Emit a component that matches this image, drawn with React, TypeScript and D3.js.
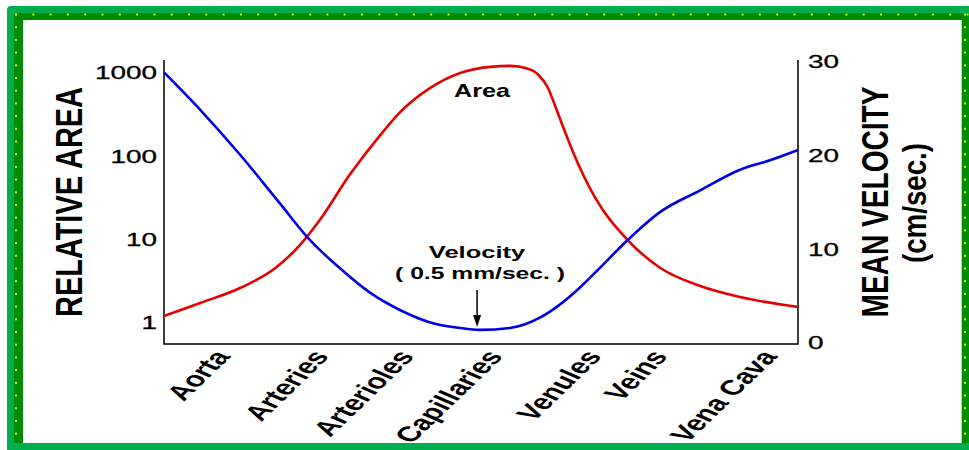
import React from 'react';
import * as d3 from 'd3';

// vessel categories along the x axis and where each label sits along the bed
const categories = ['Aorta', 'Arteries', 'Arterioles', 'Capillaries', 'Venules', 'Veins', 'Vena Cava'];
const categoryPos = [0.55, 1.64, 2.58, 3.56, 4.65, 5.38, 6.59];
const areaTicks = [1, 10, 100, 1000];
const velocityTicks = [0, 10, 20, 30];

// position along the vascular bed (0 = start of aorta, 7 = end of vena cava)
const areaPos = [0, 0.4, 0.84, 1.23, 1.5, 1.72, 2.05, 2.39, 2.61, 2.94, 3.27, 3.6, 3.82, 3.99, 4.13, 4.24, 4.32, 4.41, 4.52, 4.76, 5.12, 5.48, 5.92, 6.36, 7];
const areaValues = [1.21, 1.74, 2.63, 4.57, 8.6, 17.2, 60, 181, 341, 662, 1000, 1183, 1217, 1150, 960, 660, 400, 220, 110, 32, 9.9, 4.57, 2.78, 2.05, 1.56];

const velocityPos = [0, 0.4, 0.84, 1.28, 1.61, 1.94, 2.27, 2.61, 2.94, 3.27, 3.49, 3.82, 4.15, 4.37, 4.59, 4.81, 5.12, 5.48, 5.92, 6.36, 6.69, 7];
const velocityValues = [28.9, 24.9, 20.1, 14.9, 11.0, 8.0, 5.4, 3.5, 2.2, 1.6, 1.4, 1.6, 2.7, 4.1, 5.9, 8.0, 11.0, 14.0, 16.3, 18.5, 19.5, 20.6];

const W = 969;
const H = 450;
const left = 164;
const right = 798;
const bottom = 344;
const top = 60;
const SX = 1.55; // the original picture is stretched horizontally
const FONT = '"Liberation Sans", Arial, sans-serif';

export default function App() {
  const x = d3.scaleLinear().domain([0, 7]).range([left, right]);
  const yArea = d3.scaleLog().domain([Math.pow(10, -0.252), Math.pow(10, 3.156)]).range([bottom, top]);
  const yVel = d3.scaleLinear().domain([0, 30]).range([343, 62]);

  const areaLine = d3.line<number>()
    .x((d, i) => x(areaPos[i]))
    .y(d => yArea(d))
    .curve(d3.curveMonotoneX);
  const velLine = d3.line<number>()
    .x((d, i) => x(velocityPos[i]))
    .y(d => yVel(d))
    .curve(d3.curveMonotoneX);

  const minIdx = velocityValues.indexOf(d3.min(velocityValues) as number);
  const arrowX = x(velocityPos[minIdx]) - 3;
  const arrowTip = yVel(velocityValues[minIdx]) - 3;

  // border dots
  const topDots = d3.range(16, W, 17.3);
  const sideDots = d3.range(14.5, 443, 12.7);

  return (
    <svg width={W} height={H} style={{ position: 'absolute', left: 0, top: 0, display: 'block' }} fontFamily={FONT}>
      <rect x={0} y={0} width={W} height={H} fill="#fff" />
      {/* frame */}
      <rect x={7} y={6} width={W} height={H} rx={4} fill="#00ad4f" />
      <rect x={14} y={13} width={W} height={430} fill="#008c00" />
      <rect x={23} y={20} width={938} height={423} fill="#fff" />
      <line x1={961.5} y1={20} x2={961.5} y2={443} stroke="#b8d8b8" strokeWidth={1} />
      {topDots.map((d, i) => (
        <rect key={'t' + i} x={d - 1} y={13.5} width={2} height={2} fill="#e8e800" />
      ))}
      {sideDots.map((d, i) => (
        <g key={'s' + i}>
          <rect x={15} y={d - 1} width={2} height={2} fill="#e8e800" />
          <rect x={964} y={d - 1} width={2} height={2} fill="#e8e800" />
        </g>
      ))}

      {/* axes */}
      <path d={`M${left},${top}V${bottom}H${right}V${top}`} fill="none" stroke="#000" strokeWidth={1.5} />

      {areaTicks.map(t => (
        <text key={t} transform={`translate(157,${yArea(t)}) scale(${SX},1)`} textAnchor="end" dy="0.36em" fontSize={18}
          stroke="#000" strokeWidth={0.3}>
          {t}
        </text>
      ))}
      {velocityTicks.map(t => (
        <text key={t} transform={`translate(808,${yVel(t)}) scale(${SX},1)`} dy="0.36em" fontSize={18}
          stroke="#000" strokeWidth={0.3}>
          {t}
        </text>
      ))}

      {categories.map((c, i) => (
        <text key={c}
          transform={`translate(${x(categoryPos[i]) - 2},348) scale(${SX},1) rotate(-56)`}
          textAnchor="end" dy="0.72em" fontSize={21} fontWeight="bold">
          {c}
        </text>
      ))}

      {/* axis titles */}
      <text transform={`translate(82,202) scale(1.45,1) rotate(-90)`} textAnchor="middle" fontSize={26} fontWeight="bold"
        textLength={230} lengthAdjust="spacingAndGlyphs">RELATIVE AREA</text>
      <text transform={`translate(888,202) scale(1.45,1) rotate(-90)`} textAnchor="middle" fontSize={26} fontWeight="bold"
        textLength={231} lengthAdjust="spacingAndGlyphs">MEAN VELOCITY</text>
      <text transform={`translate(926,203) scale(1.4,1) rotate(-90)`} textAnchor="middle" fontSize={24} fontWeight="bold"
        textLength={120} lengthAdjust="spacingAndGlyphs">(cm/sec.)</text>

      {/* curves */}
      <path d={areaLine(areaValues) || ''} fill="none" stroke="#e60000" strokeWidth={2.6} />
      <path d={velLine(velocityValues) || ''} fill="none" stroke="#0000e6" strokeWidth={2.6} />

      {/* annotations */}
      <text transform={`translate(482,97) scale(1.4,1)`} textAnchor="middle" fontSize={18} fontWeight="bold">Area</text>
      <text transform={`translate(477,258) scale(1.5,1)`} textAnchor="middle" fontSize={17} fontWeight="bold">Velocity</text>
      <text transform={`translate(480,279) scale(1.45,1)`} textAnchor="middle" fontSize={17} fontWeight="bold">( 0.5 mm/sec. )</text>
      <line x1={arrowX} y1={290} x2={arrowX} y2={arrowTip - 8} stroke="#000" strokeWidth={1.5} />
      <path d={`M${arrowX - 4},${arrowTip - 12}L${arrowX + 4},${arrowTip - 12}L${arrowX},${arrowTip}Z`} fill="#000" />
    </svg>
  );
}
